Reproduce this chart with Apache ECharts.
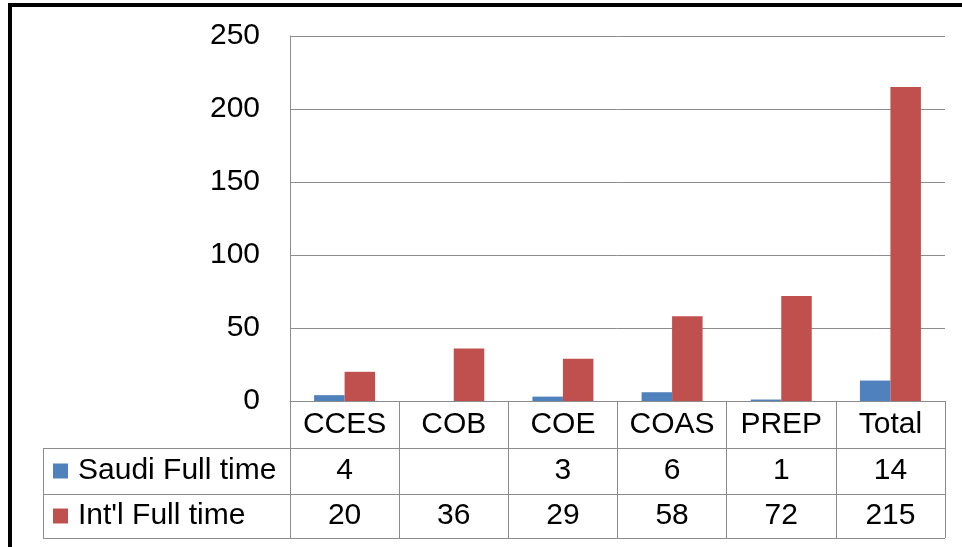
<!DOCTYPE html>
<html>
<head>
<meta charset="utf-8">
<title>Full time faculty by college</title>
<script src="https://cdn.jsdelivr.net/npm/echarts@6/dist/echarts.min.js"></script>
<style>
  html, body { margin: 0; padding: 0; background: #ffffff; }
  #chart { width: 962px; height: 547px; }
</style>
</head>
<body>
<div id="chart"></div>
<script>
// Colleges and head counts
const categories = ['CCES', 'COB', 'COE', 'COAS', 'PREP', 'Total'];
const saudiFullTime = [4, null, 3, 6, 1, 14];
const intlFullTime = [20, 36, 29, 58, 72, 215];
const seriesNames = ['Saudi Full time', "Int'l Full time"];
const yTicks = { min: 0, max: 250, interval: 50 };

// Layout of the plot and the data table underneath it
const W = 962, H = 547;
const plot = { left: 290, right: 945, top: 36, bottom: 401 };
const rowHeights = [47, 46, 44];           // category row, Saudi row, Int'l row
const rowTops = [plot.bottom, plot.bottom + rowHeights[0], plot.bottom + rowHeights[0] + rowHeights[1]];
const tableBottom = rowTops[2] + rowHeights[2];
const legendColLeft = 43;
const FONT = 'Liberation Sans, Arial, sans-serif';
const FS = 30;
const LINE = '#8c8c8c';
const BLUE = '#4F81BD', RED = '#C0504D';

const chart = echarts.init(document.getElementById('chart'), null, { renderer: 'canvas' });

const cellText = v => (v === null || v === undefined) ? ' ' : String(v);

function hLine(x1, x2, y) {
  return { type: 'line', silent: true, z: 10,
    shape: { x1: x1, y1: y + 0.5, x2: x2, y2: y + 0.5 },
    style: { stroke: LINE, lineWidth: 1 } };
}
function vLine(x, y1, y2) {
  return { type: 'line', silent: true, z: 10,
    shape: { x1: x + 0.5, y1: y1, x2: x + 0.5, y2: y2 },
    style: { stroke: LINE, lineWidth: 1 } };
}

const legendCenter = i => rowTops[i + 1] + rowHeights[i + 1] / 2;

const option = {
  animation: false,
  backgroundColor: '#ffffff',
  textStyle: { fontFamily: FONT },
  grid: {
    left: plot.left, right: W - plot.right, top: plot.top, bottom: H - plot.bottom,
    containLabel: false
  },
  legend: seriesNames.map((name, i) => ({
    data: [name],
    left: 53, top: legendCenter(i) - 15,
    padding: 0,
    icon: 'rect', itemWidth: 15, itemHeight: 15,
    selectedMode: false,
    textStyle: { fontFamily: FONT, fontSize: FS, color: '#000', lineHeight: 30, padding: [0, 0, 0, 5] }
  })),
  xAxis: {
    type: 'category',
    data: categories,
    axisLine: { show: true, lineStyle: { color: LINE, width: 1 } },
    axisTick: { show: true, length: tableBottom - plot.bottom, lineStyle: { color: LINE, width: 1 } },
    axisLabel: {
      interval: 0,
      margin: 0,
      verticalAlign: 'top',
      color: '#000',
      fontFamily: FONT,
      formatter: (value, idx) =>
        '{c|' + value + '}\n{s|' + cellText(saudiFullTime[idx]) + '}\n{i|' + cellText(intlFullTime[idx]) + '}',
      rich: {
        c: { fontFamily: FONT, fontSize: FS, color: '#000', lineHeight: rowHeights[0], height: rowHeights[0] },
        s: { fontFamily: FONT, fontSize: FS, color: '#000', lineHeight: rowHeights[1], height: rowHeights[1] },
        i: { fontFamily: FONT, fontSize: FS, color: '#000', lineHeight: rowHeights[2], height: rowHeights[2] }
      }
    }
  },
  yAxis: {
    type: 'value',
    min: yTicks.min, max: yTicks.max, interval: yTicks.interval,
    axisLine: { show: true, lineStyle: { color: LINE, width: 1 } },
    axisTick: { show: false },
    splitLine: { show: true, lineStyle: { color: LINE, width: 1 } },
    axisLabel: { margin: 30, color: '#000', fontFamily: FONT, fontSize: FS }
  },
  series: [
    {
      name: seriesNames[0], type: 'bar', data: saudiFullTime,
      barWidth: 30.5, barGap: '0%',
      itemStyle: { color: BLUE }
    },
    {
      name: seriesNames[1], type: 'bar', data: intlFullTime,
      barWidth: 30.5, barGap: '0%',
      itemStyle: { color: RED }
    }
  ],
  graphic: [
    // data table rules
    hLine(legendColLeft, plot.right, rowTops[1]),
    hLine(legendColLeft, plot.right, rowTops[2]),
    hLine(legendColLeft, plot.right, tableBottom),
    vLine(legendColLeft, rowTops[1], tableBottom + 1),
    // heavy frame along the top and left edges
    { type: 'rect', silent: true, z: 20, shape: { x: 8, y: 3, width: W - 8, height: 4 }, style: { fill: '#000' } },
    { type: 'rect', silent: true, z: 20, shape: { x: 8, y: 3, width: 4, height: H - 3 }, style: { fill: '#000' } }
  ]
};

chart.setOption(option);
</script>
</body>
</html>
